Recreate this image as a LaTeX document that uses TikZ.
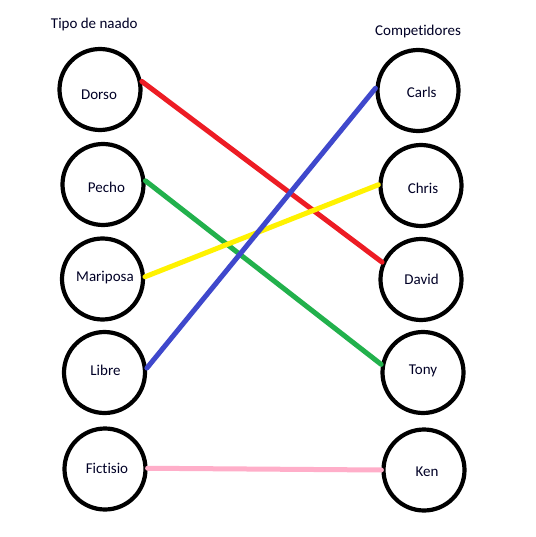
\documentclass[tikz,border=0pt]{standalone}
\usepackage{fontspec}
\setmainfont[Ligatures=NoCommon]{Carlito}
\definecolor{pred}{RGB}{237,28,36}
\definecolor{pgreen}{RGB}{34,177,76}
\definecolor{pyellow}{RGB}{255,242,0}
\definecolor{pblue}{RGB}{63,72,204}
\definecolor{ppink}{RGB}{255,174,201}
\begin{document}
\begin{tikzpicture}[x=1pt,y=-1pt,
  ring/.style={circle,draw=black,line width=4.2pt,minimum size=81pt,inner sep=0pt},
  txt/.style={font=\fontsize{15}{18}\selectfont,text height=0.644em,text depth=0pt,inner sep=0pt,text=black!85!blue},
  link/.style={line width=5pt,line cap=round}]
\fill[white] (0,0) rectangle (535,537);
\useasboundingbox (0,0) rectangle (535,537);
\node[txt] (t1) at (94.3,24.8) {Tipo de naado};
\node[txt] (t2) at (418,32.3) {Competidores};
% left column
\node[ring,label={[txt,shift={(-1,6.5)}]center:Dorso}] (dorso) at (100,89.5) {};
\node[ring,label={[txt,shift={(3.5,4.5)}]center:Pecho}] (pecho) at (103,184.5) {};
\node[ring,label={[txt,shift={(2.5,-1)}]center:Mariposa}] (mariposa) at (102.5,279) {};
\node[ring,label={[txt,shift={(1,0)}]center:Libre}] (libre) at (104.5,372.5) {};
\node[ring,label={[txt,shift={(2,1)}]center:Fictisio}] (fictisio) at (105,469) {};
% right column
\node[ring,label={[txt,shift={(3.7,4)}]center:Carls}] (carls) at (418,90.5) {};
\node[ring,label={[txt,shift={(2,4.5)}]center:Chris}] (chris) at (421,185.5) {};
\node[ring,label={[txt,shift={(0.5,2)}]center:David}] (david) at (421,279.5) {};
\node[ring,label={[txt,shift={(0,-1.5)}]center:Tony}] (tony) at (423,372.5) {};
\node[ring,label={[txt,shift={(3,3)}]center:Ken}] (ken) at (424,470) {};
% connectors
\draw[link,pred] (dorso.11) -- (david.156);
\draw[link,pgreen] (pecho.5) -- (tony.169);
\draw[link,pyellow] (mariposa.3) -- (chris.179);
\draw[link,pblue] (libre.6) -- (carls.177);
\draw[link,ppink] (fictisio.1) -- (ken.180);
\end{tikzpicture}
\end{document}
